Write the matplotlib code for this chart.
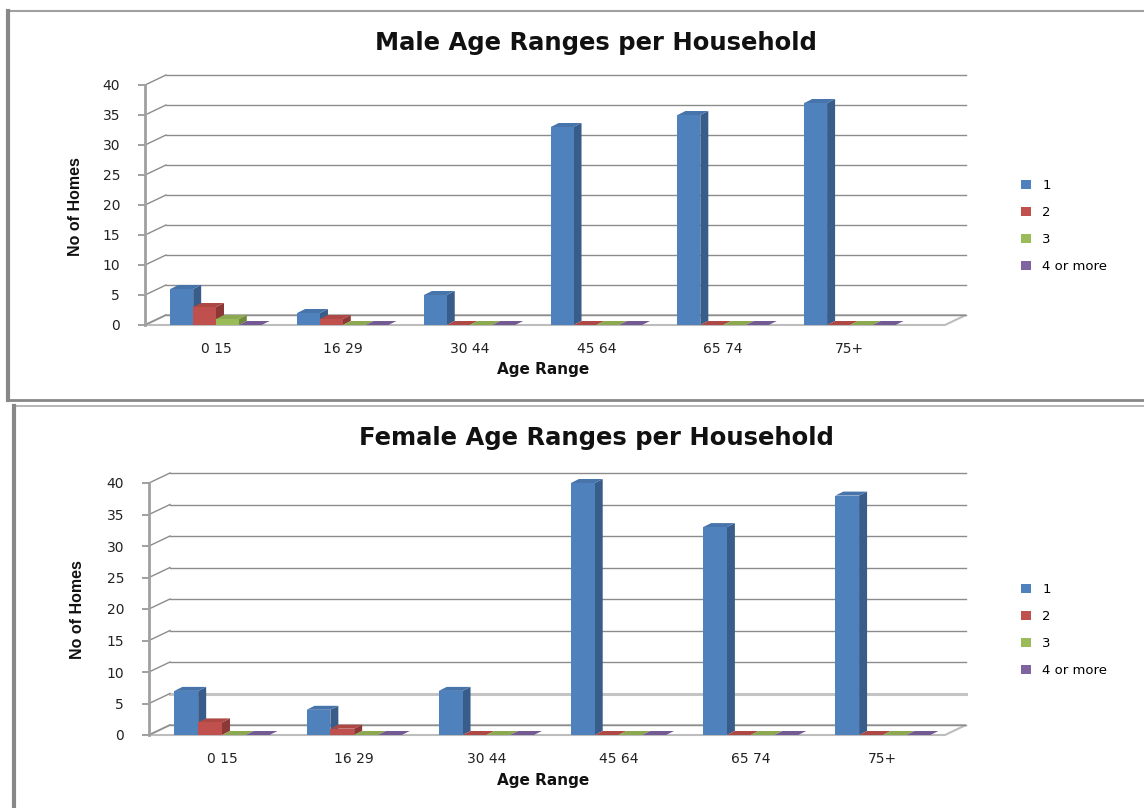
import matplotlib
matplotlib.use("Agg")
import matplotlib.pyplot as plt
from matplotlib.patches import Polygon, Patch
from matplotlib.lines import Line2D

# ---------------- data ----------------
categories = ["0 15", "16 29", "30 44", "45 64", "65 74", "75+"]
series_names = ["1", "2", "3", "4 or more"]

male_1 = [6, 2, 5, 33, 35, 37]
male_2 = [3, 1, 0, 0, 0, 0]
male_3 = [1, 0, 0, 0, 0, 0]
male_4 = [0, 0, 0, 0, 0, 0]

female_1 = [7, 4, 7, 40, 33, 38]
female_2 = [2, 1, 0, 0, 0, 0]
female_3 = [0, 0, 0, 0, 0, 0]
female_4 = [0, 0, 0, 0, 0, 0]

y_ticks = [0, 5, 10, 15, 20, 25, 30, 35, 40]

front_colors = ["#4F81BD", "#C0504D", "#9BBB59", "#8064A2"]
side_colors = ["#385D8A", "#8C3836", "#71893F", "#5C4776"]
top_colors = ["#4774AB", "#AD4845", "#8CA850", "#735A92"]

W, H = 1144, 808
fig = plt.figure(figsize=(W / 100, H / 100), dpi=100)
fig.patch.set_facecolor("white")


def fx(x):
    return x / W


def fy(y):
    return 1 - y / H


def add_panel(title, series, left, right, y0, y40, xmin, xmax,
              title_y, xlabel_y, ylabel_x, ylabel_y, legend_y, light_grid=()):
    ax = fig.add_axes([fx(left), fy(y0), fx(right - left), (y0 - y40) / H])
    ax.set_xlim(xmin, xmax)
    ax.set_ylim(0, 40)
    ax.set_facecolor("none")
    ux = (right - left) / (xmax - xmin)  # px per x unit
    uy = (y0 - y40) / 40.0                # px per y unit
    dxw, dyw = 21 / ux, 10 / uy           # wall depth
    dxb, dyb = 8 / ux, 4 / uy             # bar depth

    for s in ["top", "right", "bottom"]:
        ax.spines[s].set_visible(False)
    ax.spines["left"].set_color("#a0a0a0")
    ax.spines["left"].set_linewidth(2)
    ax.set_yticks(y_ticks)
    ax.set_yticklabels([str(t) for t in y_ticks])
    ax.tick_params(axis="y", direction="out", length=5, width=1.2,
                   color="#909090", pad=13, labelsize=10, labelcolor="#222222")
    xs = list(range(len(categories)))
    ax.set_xticks(xs)
    ax.set_xticklabels(categories)
    ax.tick_params(axis="x", length=0, pad=12, labelsize=10, labelcolor="#222222")

    # floor
    floor = Polygon([(xmin, 0), (xmax, 0), (xmax + dxw, dyw), (xmin + dxw, dyw)],
                    closed=True, facecolor="white", edgecolor="#bdbdbd",
                    lw=1.5, zorder=1, clip_on=False)
    ax.add_patch(floor)
    # back wall gridlines
    for t in y_ticks:
        if t in light_grid:
            col, lw = "#c4c4c4", 2.2
        else:
            col, lw = "#8c8c8c", 1
        ax.add_line(Line2D([xmin + dxw, xmax + dxw], [t + dyw, t + dyw],
                           color=col, lw=lw, zorder=1.5, clip_on=False))
        ax.add_line(Line2D([xmin, xmin + dxw], [t, t + dyw],
                           color="#8c8c8c", lw=1, zorder=1.5, clip_on=False))

    w = 0.18
    for i, vals in enumerate(series):
        z = 3 + i
        for xc, v in zip(xs, vals):
            xl = xc + (i - 1.5) * w - w / 2
            xr = xl + w
            ax.add_patch(Polygon([(xr, 0), (xr, v), (xr + dxb, v + dyb), (xr + dxb, dyb)],
                                 closed=True, facecolor=side_colors[i],
                                 edgecolor="none", zorder=z, clip_on=False))
            ax.add_patch(Polygon([(xl, v), (xr, v), (xr + dxb, v + dyb), (xl + dxb, v + dyb)],
                                 closed=True, facecolor=top_colors[i],
                                 edgecolor="none", zorder=z, clip_on=False))
        ax.bar([xc + (i - 1.5) * w for xc in xs], vals, width=w,
               color=front_colors[i], edgecolor="none", zorder=z + 0.5, clip_on=False)

    fig.text(fx(596), fy(title_y), title, ha="center", va="center",
             fontsize=17.5, fontweight="bold", color="#111111")
    fig.text(fx(543), fy(xlabel_y), "Age Range", ha="center", va="center",
             fontsize=11, fontweight="bold", color="#111111")
    fig.text(fx(ylabel_x), fy(ylabel_y), "No of Homes", ha="center", va="center",
             rotation=90, fontsize=11.5, fontweight="bold", color="#111111",
             family=["Liberation Sans", "DejaVu Sans"])

    handles = [Patch(facecolor=c, edgecolor="none") for c in front_colors]
    fig.legend(handles, series_names, loc="center left",
               bbox_to_anchor=(fx(1016), fy(legend_y)), frameon=False,
               fontsize=9.5, handlelength=0.7, handleheight=0.7,
               handletextpad=0.9, labelspacing=1.05, borderaxespad=0)
    return ax


add_panel("Male Age Ranges per Household", [male_1, male_2, male_3, male_4],
          145, 945, 325, 85, -0.56, 5.75,
          43, 369, 75, 207, 226)
add_panel("Female Age Ranges per Household", [female_1, female_2, female_3, female_4],
          149, 945, 735, 483, -0.552, 5.47,
          438, 781, 78, 610, 630, light_grid=(5,))

# panel borders
fig.add_artist(Line2D([fx(8), fx(1144)], [fy(11), fy(11)], color="#a0a0a0", lw=1.5))
fig.add_artist(Line2D([fx(8), fx(8)], [fy(11), fy(400)], color="#888888", lw=3))
fig.add_artist(Line2D([fx(8), fx(1144)], [fy(400), fy(400)], color="#888888", lw=2))
fig.add_artist(Line2D([fx(14), fx(1144)], [fy(406), fy(406)], color="#aaaaaa", lw=1.2))
fig.add_artist(Line2D([fx(14), fx(14)], [fy(406), fy(808)], color="#888888", lw=3))

fig.savefig("out.png", dpi=100, facecolor="white")
